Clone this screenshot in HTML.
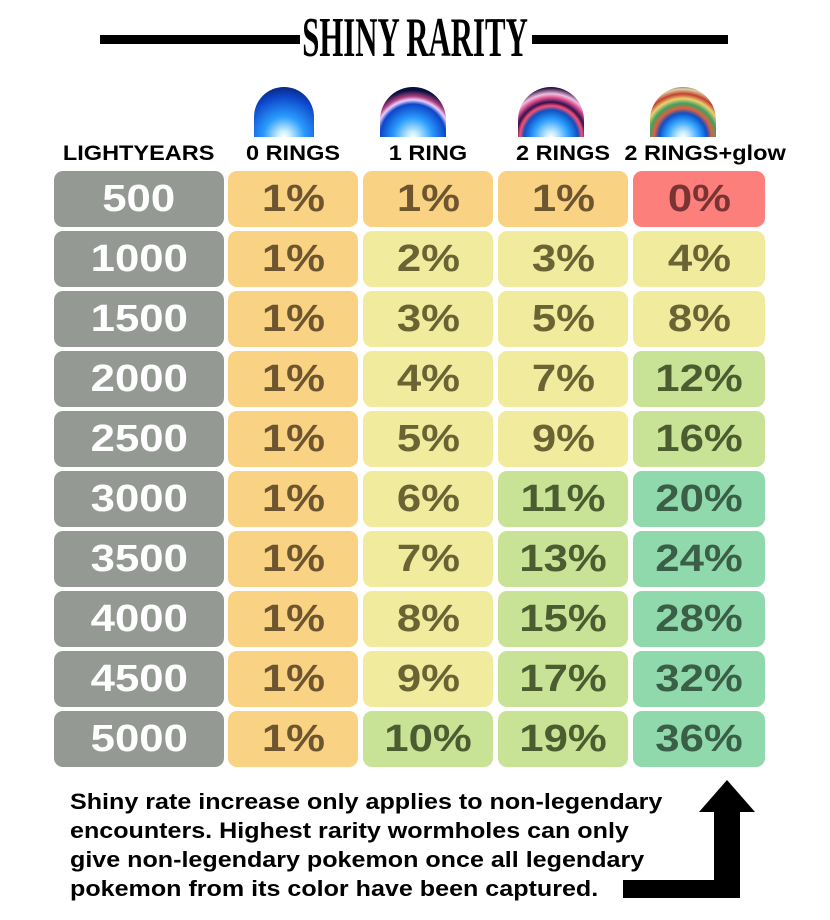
<!DOCTYPE html>
<html><head><style>
body{margin:0;width:830px;height:920px;background:#fff;position:relative;overflow:hidden;font-family:"Liberation Sans",sans-serif}
.c{position:absolute;height:56px;border-radius:9px;font-weight:bold;font-size:38px;display:flex;align-items:center;justify-content:center}
.c span{display:inline-block;transform:scaleX(1.15)}
.h{position:absolute;top:142px;font-weight:bold;font-size:21px;text-align:center;white-space:nowrap}
.h span{display:inline-block;transform:scaleX(1.12)}
.g{background:#949994;color:#fff}
.o{background:#fad283;color:#6d5530}
.y{background:#f1eb9e;color:#6a6435}
.l{background:#c8e296;color:#4b5c30}
.t{background:#8fd9ac;color:#3b5e47}
.r{background:#fc7f7b;color:#7a3333}
.ic{position:absolute;top:87px;height:50px;border-radius:50px 50px 0 0;overflow:hidden}
</style></head><body>
<div style="position:absolute;left:100px;top:35px;width:200px;height:9px;background:#000"></div>
<div style="position:absolute;left:532px;top:35px;width:196px;height:9px;background:#000"></div>
<div style="position:absolute;left:415px;top:10px;font-family:'Liberation Serif',serif;font-weight:bold;font-size:56px;line-height:56px;transform:translateX(-50%) scaleX(0.55);white-space:nowrap">SHINY RARITY</div>

<div class="ic" style="left:254px;width:60px;background:radial-gradient(circle at 50% 100%,#fff 0,#cfefff 10%,#2a9cff 35%,#0d45c8 70%,#041040 100%)"></div>
<div class="ic" style="left:380px;width:66px;background:radial-gradient(circle at 50% 100%,#fff 0,#bfe8ff 10%,#2a9cff 32%,#0d45c8 55%,#e9d0ff 62%,#b04080 68%,#0a1040 78%,#050a25 100%)"></div>
<div class="ic" style="left:518px;width:66px;background:radial-gradient(circle at 50% 100%,#fff 0,#bfe8ff 10%,#2a9cff 30%,#1050c0 45%,#ff5070 52%,#301050 58%,#e05090 66%,#f0c0e0 72%,#2a1040 82%,#050a25 100%)"></div>
<div class="ic" style="left:650px;width:66px;background:radial-gradient(circle at 50% 100%,#fff 0,#bfe8ff 10%,#2a9cff 28%,#1050c0 40%,#e06040 48%,#40a060 56%,#f0d070 64%,#c04030 72%,#e0d0a0 80%,#201020 90%,#100818 100%)"></div>

<div class="h" style="left:54px;width:170px"><span>LIGHTYEARS</span></div>
<div class="h" style="left:228px;width:130px"><span>0 RINGS</span></div>
<div class="h" style="left:363px;width:130px"><span>1 RING</span></div>
<div class="h" style="left:498px;width:130px"><span>2 RINGS</span></div>
<div class="h" style="left:633px;width:132px"><span>2 RINGS+glow</span></div>

<div id="rows"></div>
<script>
var d=[["500","o1","o1","o1","r0"],["1000","o1","y2","y3","y4"],["1500","o1","y3","y5","y8"],["2000","o1","y4","y7","l12"],["2500","o1","y5","y9","l16"],["3000","o1","y6","l11","t20"],["3500","o1","y7","l13","t24"],["4000","o1","y8","l15","t28"],["4500","o1","y9","l17","t32"],["5000","o1","l10","l19","t36"]];
var xs=[[54,170],[228,130],[363,130],[498,130],[633,132]],h="";
d.forEach(function(r,i){var top=171+i*60;
h+='<div class="c g" style="left:54px;width:170px;top:'+top+'px"><span>'+r[0]+'</span></div>';
for(var j=1;j<5;j++){h+='<div class="c '+r[j][0]+'" style="left:'+xs[j][0]+'px;width:'+xs[j][1]+'px;top:'+top+'px"><span>'+r[j].slice(1)+'%</span></div>';}
});
document.getElementById('rows').innerHTML=h;
</script>

<div style="position:absolute;left:70px;top:787px;font-weight:bold;font-size:22px;line-height:29px;white-space:nowrap;transform:scaleX(1.14);transform-origin:0 0">Shiny rate increase only applies to non-legendary<br>encounters. Highest rarity wormholes can only<br>give non-legendary pokemon once all legendary<br>pokemon from its color have been captured.</div>

<div style="position:absolute;left:714px;top:810px;width:26px;height:88px;background:#000"></div>
<div style="position:absolute;left:623px;top:880px;width:117px;height:18px;background:#000"></div>
<div style="position:absolute;left:699px;top:780px;width:0;height:0;border-left:28px solid transparent;border-right:28px solid transparent;border-bottom:32px solid #000"></div>
</body></html>
